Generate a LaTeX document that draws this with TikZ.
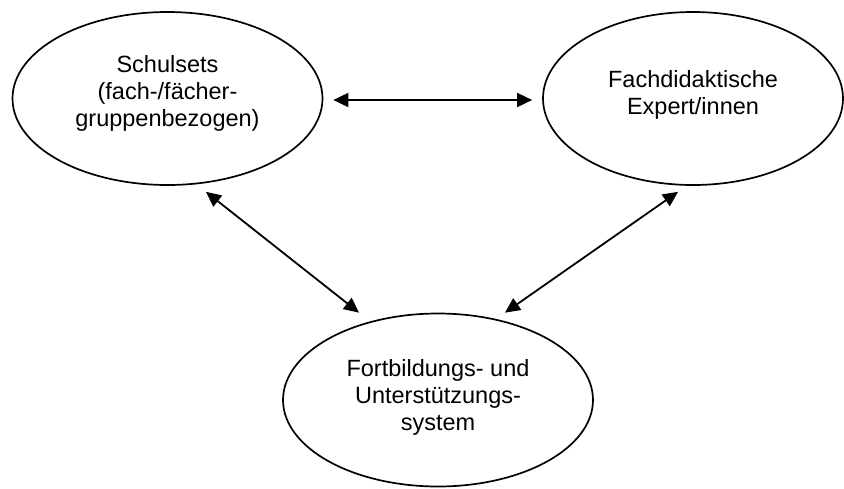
\documentclass[tikz,border=0pt]{standalone}
\usepackage{fontspec}
\setmainfont{Liberation Sans}
\usetikzlibrary{shapes.geometric,arrows.meta}
\begin{document}
\begin{tikzpicture}[x=1pt,y=-1pt,
  oval/.style={ellipse,draw=black,line width=1.7pt,inner sep=0pt,
    minimum width=310pt,minimum height=173pt},
  txt/.style={align=center,inner sep=0pt,font=\fontsize{23.5}{27}\selectfont},
  arr/.style={line width=1.8pt,{Triangle[length=15pt,width=14pt]}-{Triangle[length=15pt,width=14pt]}}]
\useasboundingbox (0,0) rectangle (844,488);
\node[oval] (s) at (167.5,98.5) {};
\node[oval,minimum width=300pt] (f) at (693,98.5) {};
\node[oval] (u) at (438,400) {};
\node[txt] (st) at ([yshift=5pt]s.center) {Schulsets\\(fach-/fächer-\\gruppenbezogen)};
\node[txt] (ft) at ([yshift=4pt]f.center) {Fachdidaktische\\Expert/innen};
\node[txt] (ut) at ([yshift=3pt]u.center) {Fortbildungs- und\\Unterstützungs-\\system};
\draw[arr] ([xshift=10pt,yshift=-1.5pt]s.east) -- ([xshift=-10pt,yshift=-1.5pt]f.west);
\draw[arr] ([xshift=38.5pt,yshift=-6pt]s.south) -- ([xshift=-79pt]u.north);
\draw[arr] ([xshift=-15pt,yshift=-6pt]f.south) -- ([xshift=67pt]u.north);
\end{tikzpicture}
\end{document}
